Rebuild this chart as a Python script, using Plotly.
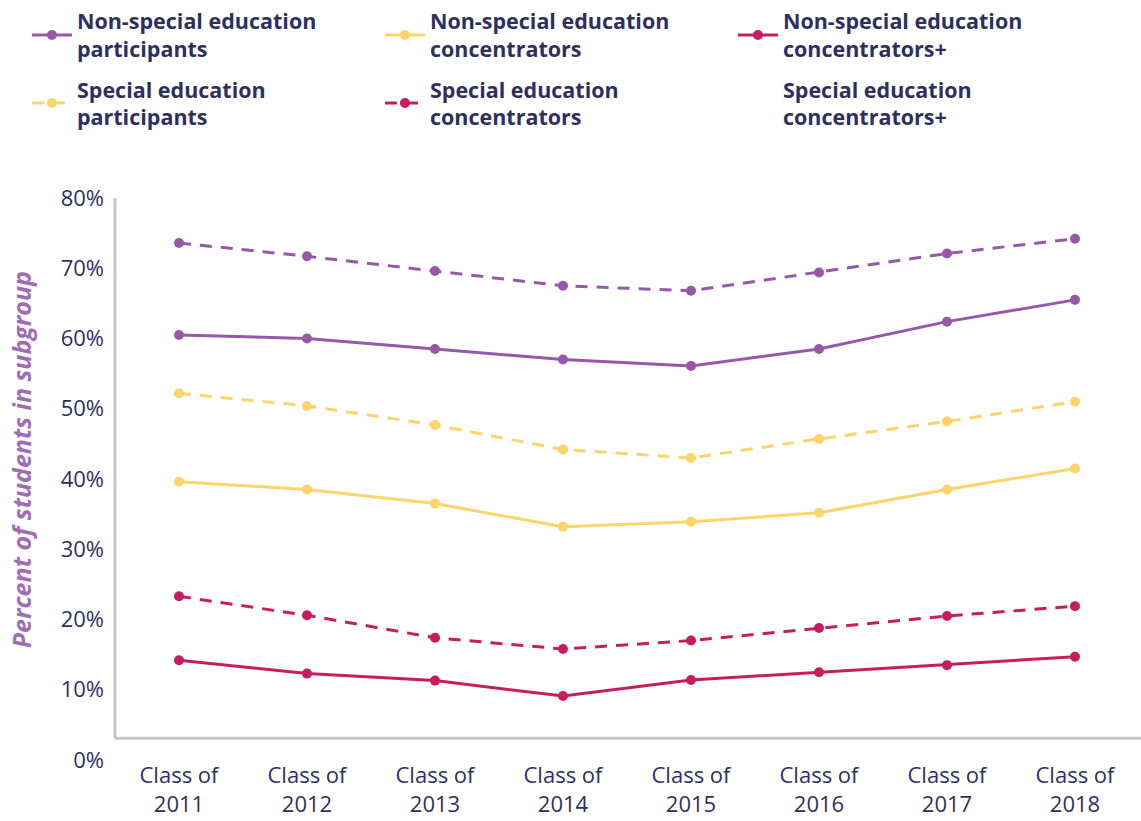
import plotly.graph_objects as go

# ---- data ----
years = ["2011", "2012", "2013", "2014", "2015", "2016", "2017", "2018"]
tick_labels = ["Class of<br>" + y for y in years]

purple_solid = [60.5, 60.0, 58.5, 57.0, 56.1, 58.5, 62.4, 65.5]
purple_dashed = [73.6, 71.7, 69.6, 67.5, 66.8, 69.4, 72.1, 74.2]
yellow_solid = [39.6, 38.5, 36.5, 33.2, 33.9, 35.2, 38.5, 41.5]
yellow_dashed = [52.2, 50.4, 47.7, 44.2, 43.0, 45.7, 48.2, 51.0]
red_solid = [14.2, 12.3, 11.3, 9.1, 11.4, 12.5, 13.5, 14.7]
red_dashed = [23.3, 20.6, 17.4, 15.8, 17.0, 18.8, 20.5, 21.9]

legend_names = [
    "Non-special education<br>participants",
    "Non-special education<br>concentrators",
    "Non-special education<br>concentrators+",
    "Special education<br>participants",
    "Special education<br>concentrators",
    "Special education<br>concentrators+",
]
y_ticks = [0, 10, 20, 30, 40, 50, 60, 70, 80]

PURPLE = "#9659a8"
YELLOW = "#fdd46a"
RED = "#c81c60"
NAVY = "#2f2f5f"
GREY = "#c6c6c6"
DASH = "12px,9px"
FONT = "Open Sans"

fig = go.Figure()

def add(vals, color, dash, name, show, legend="legend"):
    fig.add_trace(go.Scatter(
        x=years, y=vals, mode="lines+markers", name=name, showlegend=show,
        legend=legend,
        line=dict(color=color, width=3, dash=dash),
        marker=dict(color=color, size=10),
    ))

add(purple_solid, PURPLE, "solid", legend_names[0], True)
add(yellow_solid, YELLOW, "solid", legend_names[1], True)
add(red_solid, RED, "solid", legend_names[2], True)
add(yellow_dashed, YELLOW, DASH, legend_names[3], True, "legend2")
add(red_dashed, RED, DASH, legend_names[4], True, "legend2")
# legend entry without visible symbol
fig.add_trace(go.Scatter(x=[None], y=[None], mode="lines", name=legend_names[5],
                         legend="legend2",
                         line=dict(color="rgba(0,0,0,0)", width=3)))
add(purple_dashed, PURPLE, DASH, "purple dashed", False)

# axis lines (grey frame at bottom-left)
fig.add_shape(type="line", xref="paper", yref="y", x0=0, x1=1.003, y0=3.1, y1=3.1,
              line=dict(color=GREY, width=3))
fig.add_shape(type="line", xref="paper", yref="y", x0=0, x1=0, y0=3.1, y1=80.3,
              line=dict(color=GREY, width=3))

fig.add_annotation(text="<b><i>Percent of students in subgroup</i></b>",
                   xref="paper", yref="paper", x=-0.091, y=0.535,
                   textangle=-90, showarrow=False, xanchor="center", yanchor="middle",
                   font=dict(family=FONT, size=25, color="#a06db5"))

leg_common = dict(orientation="h", xanchor="left", yanchor="top",
                  entrywidth=298, entrywidthmode="pixels",
                  font=dict(family=FONT, size=21.5, color=NAVY, weight="bold"),
                  itemwidth=40, bgcolor="rgba(0,0,0,0)")

fig.update_layout(
    width=1141, height=821,
    margin=dict(l=115, r=2, t=197, b=61),
    plot_bgcolor="white", paper_bgcolor="white",
    font=dict(family=FONT, size=22, color=NAVY),
    showlegend=True,
    legend=dict(x=-0.086, y=1.349, **leg_common),
    legend2=dict(x=-0.086, y=1.228, **leg_common),
    xaxis=dict(type="category", range=[-0.5, 7.5], tickmode="array",
               tickvals=years, ticktext=tick_labels, showgrid=False,
               showline=False, zeroline=False, ticks="",
               tickfont=dict(family=FONT, size=22, color=NAVY)),
    yaxis=dict(range=[0, 80], tickvals=y_ticks,
               ticktext=[f"{v}%" for v in y_ticks], showgrid=False,
               showline=False, zeroline=False, ticks="", ticklabelstandoff=10,
               tickfont=dict(family=FONT, size=22, color=NAVY)),
)

fig.write_html("out.html")
